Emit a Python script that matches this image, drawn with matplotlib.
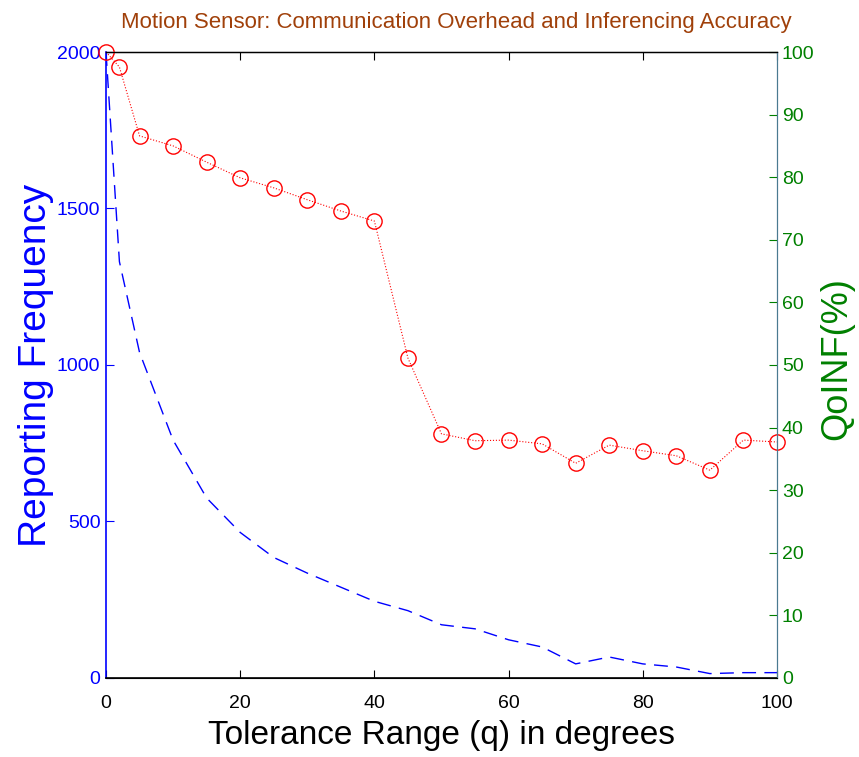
import numpy as np
import matplotlib
matplotlib.use("Agg")
import matplotlib.pyplot as plt

plt.rcParams['font.family'] = ['Liberation Sans', 'DejaVu Sans']

# tolerance range in degrees
tolerance = [0, 2, 5, 10, 15, 20, 25, 30, 35, 40, 45, 50,
             55, 60, 65, 70, 75, 80, 85, 90, 95, 100]
# reporting frequency (left axis)
report_freq = [2000, 1330, 1040, 760, 575, 465, 385, 335, 290, 245, 215, 170,
               157, 122, 99, 45, 67, 45, 35, 14, 17, 17]
# QoINF in percent (right axis)
qoinf = [100, 97.6, 86.6, 85.0, 82.4, 79.9, 78.3, 76.4, 74.6, 73.0, 51.1, 39.0,
         37.9, 38.0, 37.4, 34.3, 37.2, 36.3, 35.5, 33.2, 38.0, 37.7]

left_ticks = [0, 500, 1000, 1500, 2000]
right_ticks = list(range(0, 101, 10))
x_ticks = [0, 20, 40, 60, 80, 100]

blue = '#0000ff'
green = '#008000'
brown = '#a0400a'

fig = plt.figure(figsize=(8.59, 7.57), dpi=100)
ax = fig.add_axes([0.1234, 0.1044, 0.7811, 0.8269])
ax.plot(tolerance, report_freq, color=blue, lw=1.0, linestyle=(0, (10, 6)))
ax.set_xlim(0, 100)
ax.set_ylim(0, 2000)
ax.set_xticks(x_ticks)
ax.set_yticks(left_ticks)
ax.tick_params(axis='y', colors=blue, labelsize=14, direction='in', length=6,
               right=True, pad=4)
ax.tick_params(axis='x', colors='black', labelsize=14, direction='in', length=6,
               top=True, pad=12)
ax.spines['left'].set_color(blue)
ax.spines['left'].set_linewidth(1.2)
ax.spines['bottom'].set_linewidth(1.2)
ax.spines['top'].set_linewidth(1.0)
ax.spines['right'].set_color('#4a6aa0')
ax.set_xlabel('Tolerance Range (q) in degrees', fontsize=24, labelpad=6)
ax.set_ylabel('Reporting Frequency', fontsize=28, color=blue, labelpad=2)

ax2 = ax.twinx()
ax2.plot(tolerance, qoinf, color='red', lw=0.8, linestyle=':',
         marker='o', markersize=11, markerfacecolor='none',
         markeredgecolor='red', markeredgewidth=1.0, clip_on=False)
ax2.set_ylim(0, 100)
ax2.set_yticks(right_ticks)
ax2.tick_params(axis='y', colors=green, labelsize=14, direction='in', length=6)
ax2.spines['right'].set_color('#4a7a90')
ax2.spines['left'].set_visible(False)
ax2.set_ylabel('QoINF(%)', fontsize=26, color=green)
ax2.yaxis.set_label_coords(1.063, 0.51)

fig.text(0.531, 0.97,
         'Motion Sensor: Communication Overhead and Inferencing Accuracy',
         fontsize=16, color=brown, ha='center', va='center')

fig.savefig('out.png', dpi=100)
